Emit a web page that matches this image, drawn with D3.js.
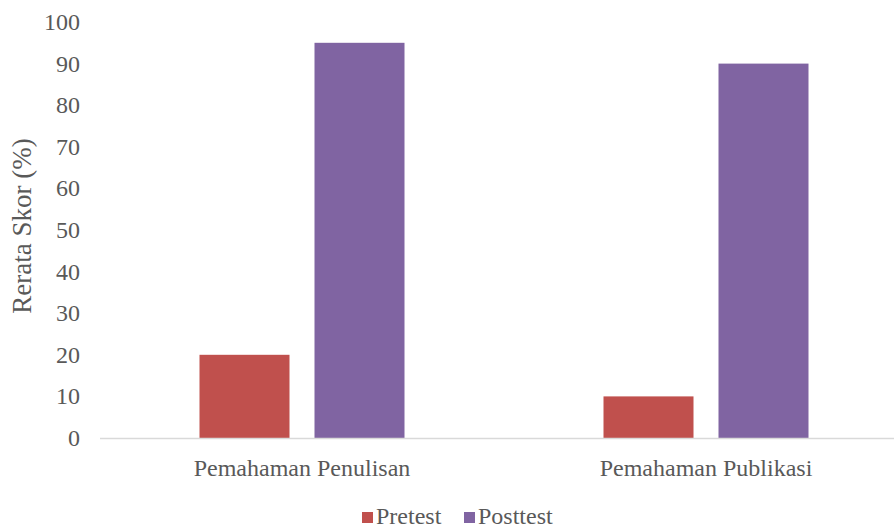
<!DOCTYPE html>
<html>
<head>
<meta charset="utf-8">
<script src="https://cdn.jsdelivr.net/npm/d3@7"></script>
<style>
  body { margin: 0; background: #fff; }
</style>
</head>
<body>
<div id="chart"></div>
<script>
// data
const categories = ["Pemahaman Penulisan", "Pemahaman Publikasi"]
const seriesNames = ["Pretest", "Posttest"]
const pretest = [20, 10]
const posttest = [95, 90]
const yTicks = [0, 10, 20, 30, 40, 50, 60, 70, 80, 90, 100]
const colors = ["#c0504d", "#8064a2"]

const serif = "Liberation Serif"
const textCol = "#595959"

const width = 894, height = 527
const svg = d3.select("#chart").append("svg")
  .attr("width", width)
  .attr("height", height)
  .attr("font-family", serif)

const plotLeft = 100, plotRight = 908, plotTop = 22, plotBottom = 438

const x = d3.scaleBand().domain(categories).range([plotLeft, plotRight])
const y = d3.scaleLinear().domain([0, 100]).range([plotBottom, plotTop])

// bars inside each category
const barW = 90, gap = 25
const rows = categories.map((c, i) => ({ cat: c, vals: [pretest[i], posttest[i]] }))

const groups = svg.selectAll("g.cat").data(rows).join("g").attr("class", "cat")
groups.selectAll("rect").data(d => d.vals.map((v, j) => ({ cat: d.cat, v: v, j: j })))
  .join("rect")
  .attr("x", d => x(d.cat) + x.bandwidth() / 2 - (barW + gap / 2) + d.j * (barW + gap))
  .attr("y", d => y(d.v))
  .attr("width", barW)
  .attr("height", d => y(0) - y(d.v))
  .attr("fill", d => colors[d.j])

// baseline
svg.append("line")
  .attr("x1", plotLeft).attr("x2", width)
  .attr("y1", y(0) + 0.5).attr("y2", y(0) + 0.5)
  .attr("stroke", "#d9d9d9").attr("stroke-width", 1.5)

// y tick labels
svg.selectAll("text.ytick").data(yTicks).join("text")
  .attr("class", "ytick")
  .attr("x", 80)
  .attr("y", d => y(d))
  .attr("dy", "0.33em")
  .attr("text-anchor", "end")
  .attr("font-family", serif)
  .attr("font-size", 24)
  .attr("fill", textCol)
  .text(d => d)

// category labels
svg.selectAll("text.xtick").data(categories).join("text")
  .attr("class", "xtick")
  .attr("x", d => x(d) + x.bandwidth() / 2)
  .attr("y", 476)
  .attr("text-anchor", "middle")
  .attr("font-family", serif)
  .attr("font-size", 24)
  .attr("fill", textCol)
  .text(d => d)

// y title
svg.append("text")
  .attr("transform", "translate(31,226) rotate(-90)")
  .attr("text-anchor", "middle")
  .attr("font-family", serif)
  .attr("font-size", 27)
  .attr("fill", textCol)
  .text("Rerata Skor (%)")

// legend
const legend = svg.append("g")
const legX = [362, 464]
seriesNames.forEach((s, i) => {
  legend.append("rect")
    .attr("x", legX[i]).attr("y", 512)
    .attr("width", 11).attr("height", 11)
    .attr("fill", colors[i])
  legend.append("text")
    .attr("x", legX[i] + 14).attr("y", 524)
    .attr("font-family", serif)
    .attr("font-size", 24)
    .attr("fill", textCol)
    .text(s)
})
</script>
</body>
</html>
